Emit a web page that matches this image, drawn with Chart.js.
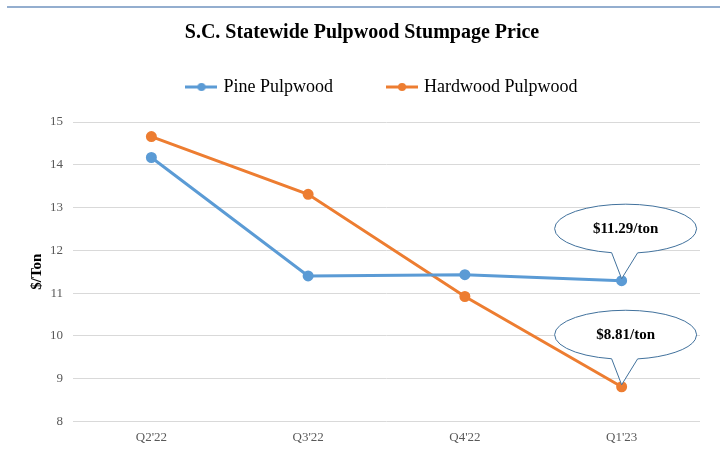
<!DOCTYPE html>
<html>
<head>
<meta charset="utf-8">
<script src="https://cdn.jsdelivr.net/npm/chart.js@4.4.0/dist/chart.umd.min.js"></script>
<style>
  html, body { margin: 0; padding: 0; background: #fff; }
  #wrap { position: relative; width: 720px; height: 461px; }
  #topLine { position: absolute; left: 7px; right: 0; top: 6px; height: 2px; background: #94aecf; }
</style>
</head>
<body>
<div id="wrap">
  <div id="topLine"></div>
  <canvas id="myChart" width="720" height="461"></canvas>
</div>
<script>
const quarters = ["Q2'22", "Q3'22", "Q4'22", "Q1'23"];
const pineValues = [14.17, 11.40, 11.43, 11.29];
const hardwoodValues = [14.66, 13.31, 10.92, 8.81];
const callouts = [
  { dataset: 0, index: 3, text: '$11.29/ton' },
  { dataset: 1, index: 3, text: '$8.81/ton' }
];

const SERIF = '"Liberation Serif", "Times New Roman", serif';

function legendMarker(color) {
  const c = document.createElement('canvas');
  c.width = 32;
  c.height = 10;
  const g = c.getContext('2d');
  g.strokeStyle = color;
  g.lineWidth = 3;
  g.beginPath();
  g.moveTo(0, 5);
  g.lineTo(32, 5);
  g.stroke();
  g.fillStyle = color;
  g.beginPath();
  g.arc(16, 5, 4, 0, Math.PI * 2);
  g.fill();
  return c;
}

// the wide item padding makes the legend box too tall; shrink it and nudge the drawing
const legendTweak = {
  id: 'legendTweak',
  beforeInit(chart) {
    const lg = chart.legend;
    const fit = lg.fit;
    lg.fit = function () {
      fit.bind(lg)();
      this.height -= 10;
    };
    const draw = lg.draw;
    lg.draw = function () {
      const ctx = chart.ctx;
      const bottom = lg.bottom;
      lg.bottom += 40; // legend clips to its box, give the shifted text room
      ctx.save();
      ctx.translate(21, -26);
      draw.bind(lg)();
      ctx.restore();
      lg.bottom = bottom;
    };
  }
};

const calloutPlugin = {
  id: 'callouts',
  afterDatasetsDraw(chart) {
    const ctx = chart.ctx;
    callouts.forEach((c) => {
      const pt = chart.getDatasetMeta(c.dataset).data[c.index];
      const cx = pt.x + 4, cy = pt.y - 52, rx = 71, ry = 24.5;
      const aL = Math.acos(-14 / rx), aR = Math.acos(12 / rx);
      ctx.save();
      ctx.beginPath();
      ctx.ellipse(cx, cy, rx, ry, 0, aL, aR + Math.PI * 2);
      ctx.lineTo(pt.x, pt.y - 2);
      ctx.closePath();
      ctx.fillStyle = '#ffffff';
      ctx.fill();
      ctx.strokeStyle = '#41719c';
      ctx.lineWidth = 1;
      ctx.stroke();
      ctx.fillStyle = '#000000';
      ctx.font = 'bold 15px ' + SERIF;
      ctx.textAlign = 'center';
      ctx.textBaseline = 'middle';
      ctx.fillText(c.text, cx, cy);
      ctx.restore();
    });
  }
};

new Chart(document.getElementById('myChart'), {
  type: 'line',
  data: {
    labels: quarters,
    datasets: [{
      label: 'Pine Pulpwood',
      data: pineValues,
      borderColor: '#5b9bd5',
      backgroundColor: '#5b9bd5',
      borderWidth: 3,
      pointRadius: 4
    }, {
      label: 'Hardwood Pulpwood',
      data: hardwoodValues,
      borderColor: '#ed7d31',
      backgroundColor: '#ed7d31',
      borderWidth: 3,
      pointRadius: 4
    }]
  },
  options: {
    responsive: false,
    animation: false,
    layout: { padding: { left: 24, right: 20, top: 0, bottom: 16 } },
    plugins: {
      title: {
        display: true,
        text: 'S.C. Statewide Pulpwood Stumpage Price',
        color: '#000',
        font: { family: SERIF, size: 20, weight: 'bold' },
        padding: { top: 21, bottom: 3 }
      },
      legend: {
        labels: {
          usePointStyle: true,
          pointStyleWidth: 26,
          color: '#000',
          font: { family: SERIF, size: 18 },
          padding: 56,
          generateLabels(chart) {
            return chart.data.datasets.map((ds, i) => ({
              text: ds.label,
              pointStyle: legendMarker(ds.borderColor),
              fillStyle: ds.borderColor,
              strokeStyle: ds.borderColor,
              lineWidth: 0,
              datasetIndex: i,
              fontColor: '#000'
            }));
          }
        }
      },
      tooltip: { enabled: false }
    },
    scales: {
      x: {
        offset: true,
        grid: { display: false },
        border: { display: false },
        ticks: { color: '#595959', font: { family: SERIF, size: 13 }, padding: 0 }
      },
      y: {
        min: 8,
        max: 15,
        ticks: { stepSize: 1, color: '#595959', font: { family: SERIF, size: 13 }, padding: 10 },
        grid: { color: '#d9d9d9', drawTicks: false },
        border: { display: false },
        title: {
          display: true,
          text: '$/Ton',
          color: '#000',
          font: { family: SERIF, size: 15, weight: 'bold' }
        },
        afterFit(scale) { scale.width = 49; }
      }
    }
  },
  plugins: [calloutPlugin, legendTweak]
});
</script>
</body>
</html>
